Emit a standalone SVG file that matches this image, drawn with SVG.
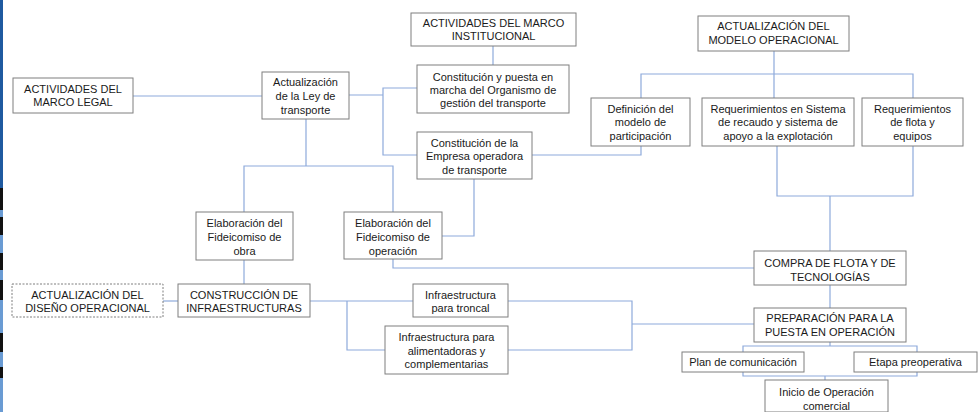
<svg xmlns="http://www.w3.org/2000/svg" width="980" height="412" viewBox="0 0 980 412">
<style>
.b{fill:#fff;stroke:#7f7f7f;stroke-width:1}
.d{fill:#fff;stroke:#7f7f7f;stroke-width:1;stroke-dasharray:2 1.5}
.t{font-family:"Liberation Sans",Arial,sans-serif;font-size:11px;fill:#1a1a1a;text-anchor:middle}
.c{fill:none;stroke:#8eaadb;stroke-width:1.2}
</style>
<rect width="980" height="412" fill="#fff"/>
<g id="edge">
<rect x="0" y="0" width="3" height="188" fill="#1f5aa0"/>
<rect x="0" y="188" width="3" height="224" fill="#6a9bd3"/>
<rect x="0" y="188" width="3" height="22" fill="#111"/>
<rect x="0" y="217" width="3" height="18" fill="#111"/>
<rect x="0" y="253" width="3" height="17" fill="#111"/>
<rect x="0" y="280" width="3" height="20" fill="#111"/>
<rect x="0" y="333" width="3" height="19" fill="#111"/>
<rect x="0" y="367" width="3" height="11" fill="#111"/>
</g>
<g id="connectors">
<path class="c" d="M133 96H262"/>
<path class="c" d="M306 119V166M244 212V166H393V212"/>
<path class="c" d="M349 95H383M417 88H383V155H417"/>
<path class="c" d="M493 46V65"/>
<path class="c" d="M532 155H641V146"/>
<path class="c" d="M641 98V74H913V98M774 51V98"/>
<path class="c" d="M777 146V196H913V146M830 196V251"/>
<path class="c" d="M474 179V236H442"/>
<path class="c" d="M393 259V268H754"/>
<path class="c" d="M830 285V308"/>
<path class="c" d="M244 260V284"/>
<path class="c" d="M163 301H178"/>
<path class="c" d="M310 301H413M347 301V350H385"/>
<path class="c" d="M508 301H632V350H508M632 324H754"/>
<path class="c" d="M830 342V346M743 352V346H917V352"/>
<path class="c" d="M743 372V376H917V372M825 376V380"/>
</g>
<g id="legal"><rect class="b" x="13" y="78" width="120" height="35"/><text class="t" x="73" y="93">ACTIVIDADES DEL</text><text class="t" x="73" y="106">MARCO LEGAL</text></g>
<g id="ley"><rect class="b" x="262" y="72" width="87" height="47"/><text class="t" x="305.5" y="86">Actualización</text><text class="t" x="305.5" y="100">de la Ley de</text><text class="t" x="305.5" y="114">transporte</text></g>
<g id="institucional"><rect class="b" x="411" y="13" width="165" height="33"/><text class="t" x="493.5" y="27">ACTIVIDADES DEL MARCO</text><text class="t" x="493.5" y="40">INSTITUCIONAL</text></g>
<g id="organismo"><rect class="b" x="417" y="65" width="152" height="48"/><text class="t" x="493" y="81">Constitución y puesta en</text><text class="t" x="493" y="94">marcha del Organismo de</text><text class="t" x="493" y="107">gestión del transporte</text></g>
<g id="empresa"><rect class="b" x="417" y="132" width="115" height="47"/><text class="t" x="474.5" y="147">Constitución de la</text><text class="t" x="474.5" y="160">Empresa operadora</text><text class="t" x="474.5" y="174">de transporte</text></g>
<g id="definicion"><rect class="b" x="591" y="98" width="99" height="48"/><text class="t" x="640.5" y="113">Definición del</text><text class="t" x="640.5" y="126">modelo de</text><text class="t" x="640.5" y="140">participación</text></g>
<g id="modelo"><rect class="b" x="698" y="16" width="151" height="35"/><text class="t" x="773.5" y="30">ACTUALIZACIÓN DEL</text><text class="t" x="773.5" y="44">MODELO OPERACIONAL</text></g>
<g id="recaudo"><rect class="b" x="702" y="98" width="152" height="48"/><text class="t" x="778" y="113">Requerimientos en Sistema</text><text class="t" x="778" y="126">de recaudo y sistema de</text><text class="t" x="778" y="140">apoyo a la explotación</text></g>
<g id="flota"><rect class="b" x="862" y="98" width="101" height="48"/><text class="t" x="912.5" y="113">Requerimientos</text><text class="t" x="912.5" y="126">de flota y</text><text class="t" x="912.5" y="140">equipos</text></g>
<g id="fid_obra"><rect class="b" x="196" y="212" width="97" height="48"/><text class="t" x="244.5" y="227">Elaboración del</text><text class="t" x="244.5" y="241">Fideicomiso de</text><text class="t" x="244.5" y="255">obra</text></g>
<g id="fid_op"><rect class="b" x="344" y="212" width="98" height="47"/><text class="t" x="393" y="227">Elaboración del</text><text class="t" x="393" y="241">Fideicomiso de</text><text class="t" x="393" y="255">operación</text></g>
<g id="compra"><rect class="b" x="754" y="251" width="152" height="34"/><text class="t" x="830" y="267">COMPRA DE FLOTA Y DE</text><text class="t" x="830" y="281">TECNOLOGÍAS</text></g>
<g id="diseno"><rect class="d" x="12" y="284" width="151" height="33"/><text class="t" x="87.5" y="299">ACTUALIZACIÓN DEL</text><text class="t" x="87.5" y="312">DISEÑO OPERACIONAL</text></g>
<g id="construccion"><rect class="b" x="178" y="284" width="132" height="33"/><text class="t" x="244" y="299">CONSTRUCCIÓN DE</text><text class="t" x="244" y="312">INFRAESTRUCTURAS</text></g>
<g id="troncal"><rect class="b" x="413" y="284" width="95" height="33"/><text class="t" x="460.5" y="299">Infraestructura</text><text class="t" x="460.5" y="312">para troncal</text></g>
<g id="alimentadoras"><rect class="b" x="385" y="326" width="123" height="48"/><text class="t" x="446.5" y="341">Infraestructura para</text><text class="t" x="446.5" y="355">alimentadoras y</text><text class="t" x="446.5" y="368">complementarias</text></g>
<g id="preparacion"><rect class="b" x="754" y="308" width="152" height="34"/><text class="t" x="830" y="322">PREPARACIÓN PARA LA</text><text class="t" x="830" y="336">PUESTA EN OPERACIÓN</text></g>
<g id="plan"><rect class="b" x="682" y="352" width="122" height="20"/><text class="t" x="743" y="366">Plan de comunicación</text></g>
<g id="etapa"><rect class="b" x="854" y="352" width="123" height="20"/><text class="t" x="915.5" y="366">Etapa preoperativa</text></g>
<g id="inicio"><rect class="b" x="765" y="380" width="123" height="32"/><text class="t" x="826.5" y="396">Inicio de Operación</text><text class="t" x="826.5" y="410">comercial</text></g>
</svg>
